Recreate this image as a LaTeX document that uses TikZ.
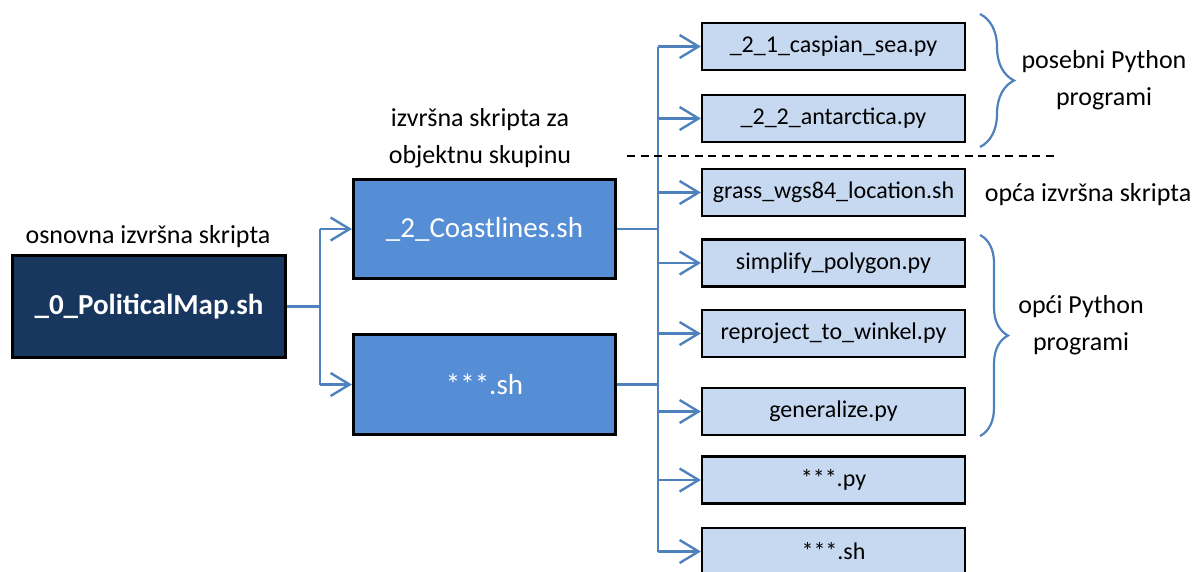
\documentclass[tikz,border=0pt]{standalone}
\usepackage{fontspec}
\setmainfont{Carlito}
\usetikzlibrary{arrows.meta,decorations.pathreplacing}
\definecolor{navyfill}{HTML}{17375E}
\definecolor{midfill}{HTML}{558ED5}
\definecolor{lightfill}{HTML}{C6D9F1}
\definecolor{linkblue}{HTML}{4F81BD}
\begin{document}
\begin{tikzpicture}[x=1pt,y=-1pt,
  boxdark/.style={draw=black,line width=3.2pt,fill=navyfill,text=white,
    minimum width=273pt,minimum height=102pt,inner sep=0pt,
    font=\fontsize{29}{34}\selectfont\bfseries},
  boxmid/.style={draw=black,line width=3.2pt,fill=midfill,text=white,
    minimum width=262pt,minimum height=99pt,inner sep=0pt,
    font=\fontsize{29}{34}\selectfont},
  boxlight/.style={draw=black,line width=2.2pt,fill=lightfill,text=black,
    minimum width=263pt,minimum height=47pt,inner sep=0pt,
    font=\fontsize{24}{29}\selectfont},
  lbl/.style={text=black,inner sep=0pt,align=center,
    font=\fontsize{26}{37}\selectfont},
  link/.style={draw=linkblue,line width=2.4pt},
  arr/.style={link,-{Straight Barb[length=19pt,width=23pt]}},
  curly/.style={draw=linkblue,line width=2.2pt,decorate},
]
\useasboundingbox (0,0) rectangle (1204,571);

% main script and object-group scripts
\node[boxdark] (main) at (149,306.5) {\_0\_PoliticalMap.sh};
\node[boxmid] (coast) at (484.5,229) {\_2\_Coastlines.sh};
\node[boxmid,minimum height=100pt] (star) at (484.5,384.5) {***.sh};

% called programs
\node[boxlight] (b1) at (833.5,46.5) {\_2\_1\_caspian\_sea.py};
\node[boxlight] (b2) at (833.5,118.5) {\_2\_2\_antarctica.py};
\node[boxlight] (b3) at (833.5,192.5) {grass\_wgs84\_location.sh};
\node[boxlight] (b4) at (833.5,263) {simplify\_polygon.py};
\node[boxlight] (b5) at (833.5,333.5) {reproject\_to\_winkel.py};
\node[boxlight] (b6) at (833.5,411.5) {generalize.py};
\node[boxlight] (b7) at (833.5,480) {***.py};
\node[boxlight] (b8) at (833.5,551.5) {***.sh};

% labels
\node[lbl] (l0) at (148,237) {osnovna izvršna skripta};
\node[lbl] (l1) at (480,138.5) {izvršna skripta za\\objektnu skupinu};
\node[lbl] (l2) at (1104,80) {posebni Python\\programi};
\node[lbl] (l3) at (1088,195) {opća izvršna skripta};
\node[lbl] (l4) at (1081,325) {opći Python\\programi};

% junction columns
\coordinate (j1) at (320,0);
\coordinate (j2) at (658,0);

% first level connectors
\draw[link] (main.east) -- (j1 |- main.east);
\draw[link] (j1 |- coast.west) -- (j1 |- star.west);
\draw[arr] (j1 |- coast.west) -- (coast.west);
\draw[arr] (j1 |- star.west) -- (star.west);

% second level connectors
\draw[link] (coast.east) -- (j2 |- coast.east);
\draw[link] (star.east) -- (j2 |- star.east);
\draw[link] (j2 |- b1.west) -- (j2 |- b8.west);
\foreach \b in {b1,b2,b3,b4,b5,b6,b7,b8}
  \draw[arr] (j2 |- \b.west) -- (\b.west);

% separator between specific and general programs
\coordinate (d1) at (627,156);
\coordinate (d2) at (1055,156);
\draw[black,line width=1.5pt,dash pattern=on 8pt off 5.5pt] (d1) -- (d2);

% braces
\coordinate (c1) at (980,14);
\coordinate (c2) at (980,147);
\coordinate (c3) at (980,235);
\coordinate (c4) at (980,436);
\draw[curly,decoration={brace,amplitude=34pt}] (c1) -- (c2);
\draw[curly,decoration={brace,amplitude=28pt}] (c3) -- (c4);
\end{tikzpicture}
\end{document}
